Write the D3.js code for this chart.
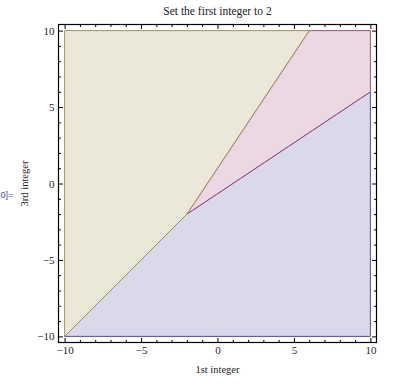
<!DOCTYPE html>
<html>
<head>
<meta charset="utf-8">
<script src="https://cdn.jsdelivr.net/npm/d3@7"></script>
<style>
  body { margin: 0; background: #fff; }
  svg { display: block; }
  text { font-family: "Liberation Serif", "DejaVu Serif", serif; fill: #222; }
</style>
</head>
<body>
<div id="chart"></div>
<script>
// region corners, in (1st integer, 3rd integer) units
var regionNames = ["lower", "middle", "upper"];
var lowerRegion = [[-10, -10], [10, -10], [10, 6], [-2, -2]];
var middleRegion = [[-2, -2], [10, 6], [10, 10], [6, 10]];
var upperRegion = [[-10, -10], [-2, -2], [6, 10], [-10, 10]];
var majorTicks = [-10, -5, 0, 5, 10];
var minorTicks = [-9, -8, -7, -6, -4, -3, -2, -1, 1, 2, 3, 4, 6, 7, 8, 9];
var titleText = "Set the first integer to 2";
var xLabel = "1st integer";
var yLabel = "3rd integer";

var width = 420,
    height = 383,
    margin = {top: 24.5, right: 43.5, bottom: 40.5, left: 58.5};

var fills = {lower: "#d9d9ea", middle: "#ebd8e3", upper: "#ebe8d8"},
    strokes = {lower: "#3d3d8f", middle: "#9b3a6e", upper: "#9a8a3c"};

var regions = [
  {name: regionNames[0], pts: lowerRegion},
  {name: regionNames[1], pts: middleRegion},
  {name: regionNames[2], pts: upperRegion}
];

var svg = d3.select("#chart").append("svg")
    .attr("width", width)
    .attr("height", height);

var x = d3.scaleLinear().domain([-10.4, 10.4]).range([margin.left, width - margin.right]),
    y = d3.scaleLinear().domain([-10.4, 10.4]).range([height - margin.bottom, margin.top]);

var line = d3.line()
    .x(function(d) { return x(d[0]); })
    .y(function(d) { return y(d[1]); });

svg.append("g").attr("class", "regions")
  .selectAll("path").data(regions).enter()
  .append("path")
    .attr("d", function(d) { return line(d.pts) + "Z"; })
    .attr("fill", function(d) { return fills[d.name]; })
    .attr("stroke", function(d) { return strokes[d.name]; })
    .attr("stroke-width", 0.9)
    .attr("stroke-linejoin", "miter");

// ticks point inward on all four sides
function frameAxis(axisFn, pos, vals, size, labels) {
  var a = axisFn.tickValues(vals).tickSize(-size).tickPadding(4);
  if (!labels) a.tickFormat("");
  var g = svg.append("g").attr("transform", pos).call(a);
  g.select(".domain").remove();
  g.selectAll(".tick line").attr("stroke", "#000").attr("stroke-width", 1);
  g.selectAll(".tick text")
    .style("font-family", "'Liberation Serif', serif")
    .style("font-size", "11px")
    .attr("fill", "#222");
  return g;
}

var posBottom = "translate(0," + (height - margin.bottom) + ")",
    posTop = "translate(0," + margin.top + ")",
    posLeft = "translate(" + margin.left + ",0)",
    posRight = "translate(" + (width - margin.right) + ",0)";

frameAxis(d3.axisBottom(x), posBottom, majorTicks, 4.5, true);
frameAxis(d3.axisBottom(x), posBottom, minorTicks, 2.5, false);
frameAxis(d3.axisTop(x), posTop, majorTicks, 4.5, false);
frameAxis(d3.axisTop(x), posTop, minorTicks, 2.5, false);
frameAxis(d3.axisLeft(y), posLeft, majorTicks, 4.5, true);
frameAxis(d3.axisLeft(y), posLeft, minorTicks, 2.5, false);
frameAxis(d3.axisRight(y), posRight, majorTicks, 4.5, false);
frameAxis(d3.axisRight(y), posRight, minorTicks, 2.5, false);

svg.append("rect")
    .attr("x", margin.left)
    .attr("y", margin.top)
    .attr("width", width - margin.left - margin.right)
    .attr("height", height - margin.top - margin.bottom)
    .attr("fill", "none")
    .attr("stroke", "#000")
    .attr("stroke-width", 1.2);

svg.append("text")
    .attr("x", (margin.left + width - margin.right) / 2)
    .attr("y", 15)
    .attr("text-anchor", "middle")
    .style("font-size", "11.5px")
    .text(titleText);

svg.append("text")
    .attr("x", (margin.left + width - margin.right) / 2)
    .attr("y", 373)
    .attr("text-anchor", "middle")
    .style("font-size", "10.5px")
    .text(xLabel);

svg.append("text")
    .attr("transform", "translate(28," + y(0) + ") rotate(-90)")
    .attr("text-anchor", "middle")
    .style("font-size", "10.5px")
    .text(yLabel);

// visible tail of the cell label
svg.append("text")
    .attr("x", 0.5)
    .attr("y", 197.5)
    .attr("text-anchor", "start")
    .style("font-family", "'Liberation Sans', sans-serif")
    .style("font-size", "9px")
    .style("fill", "#4f4fa6")
    .text("0]=");
</script>
</body>
</html>
